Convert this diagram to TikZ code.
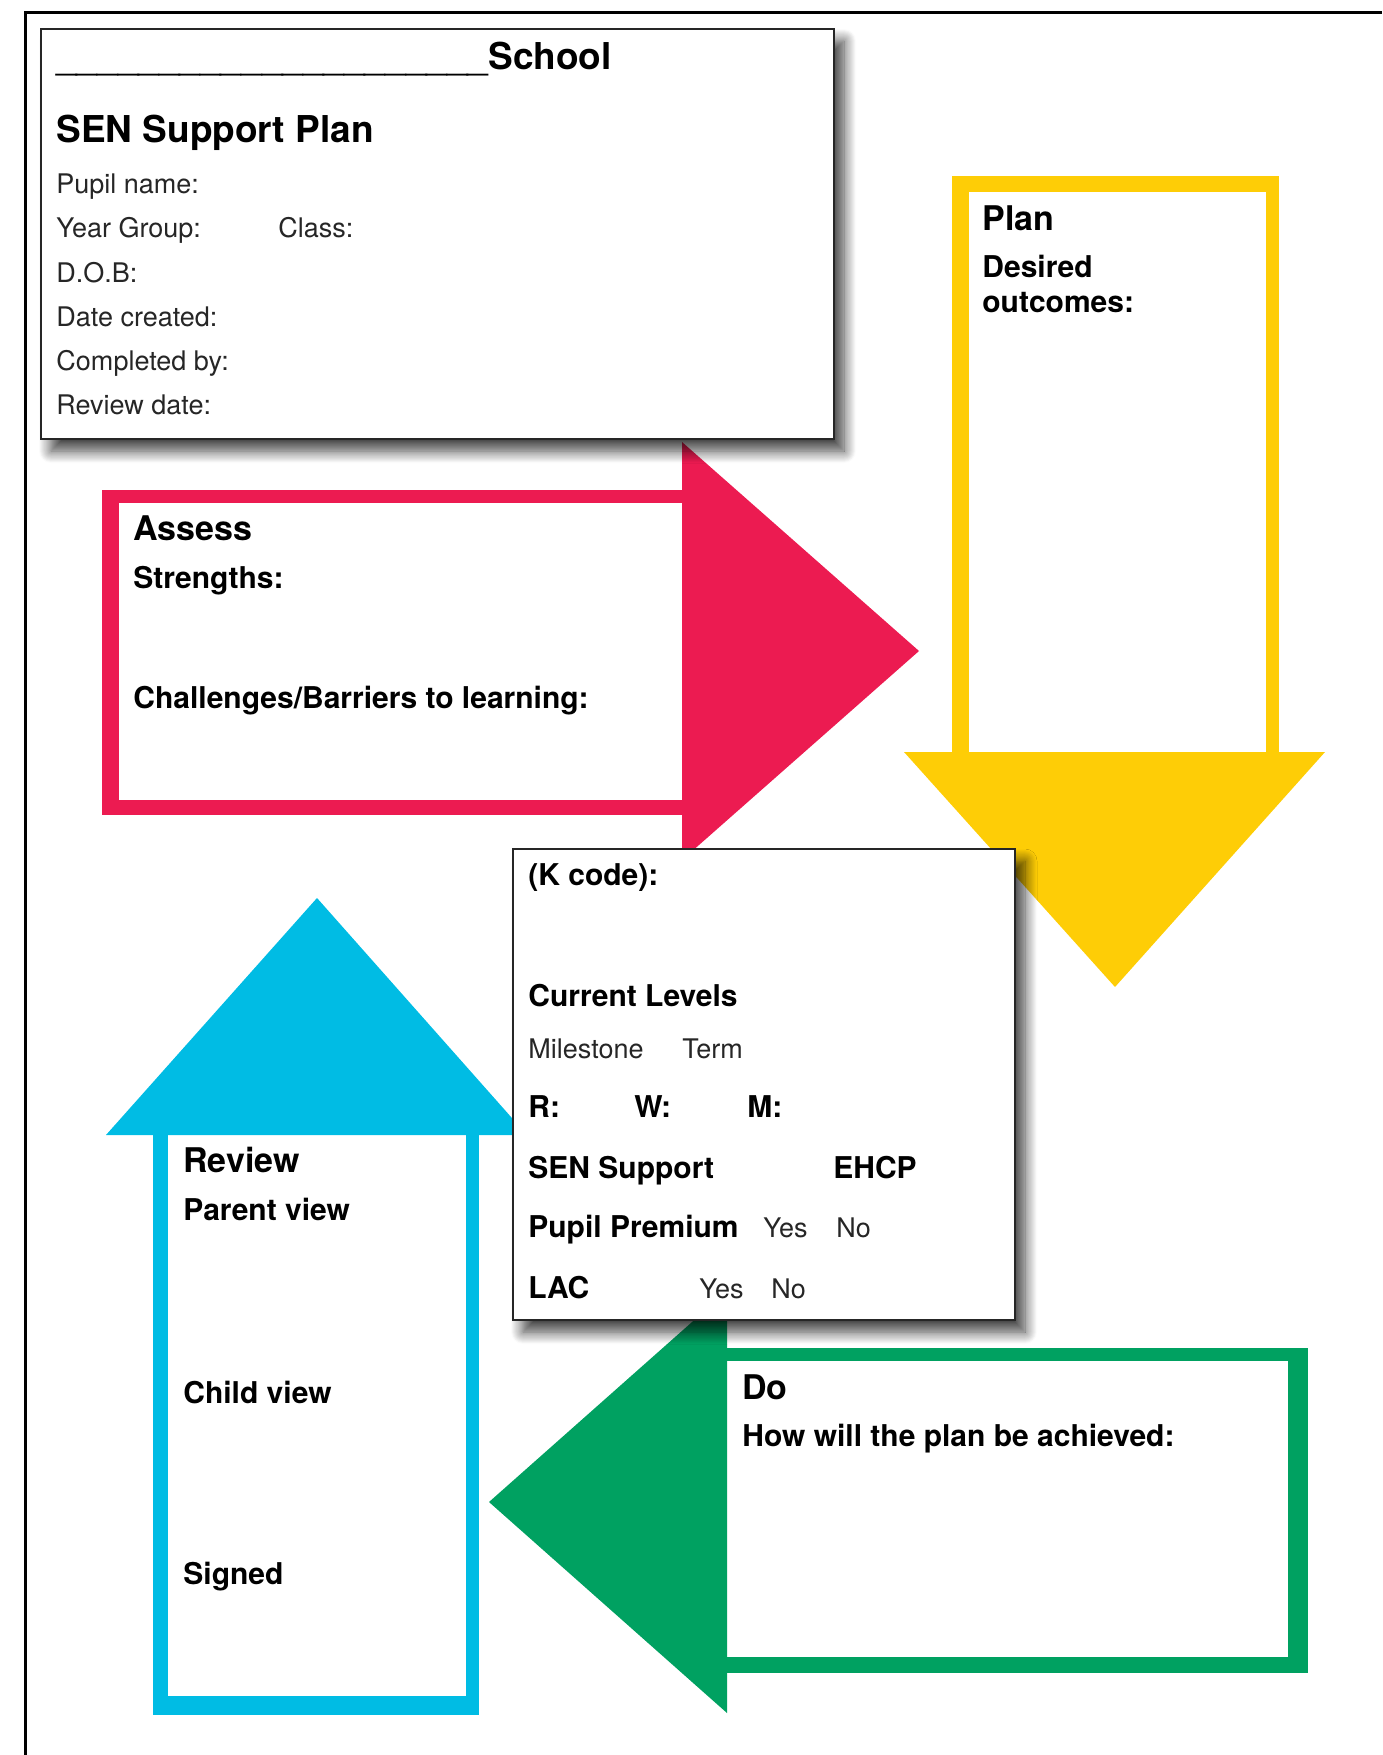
\documentclass[tikz,border=0pt]{standalone}
\usepackage{fontspec}
\setmainfont{TeX Gyre Heros}
\usetikzlibrary{shadows.blur}
\definecolor{assessred}{RGB}{236,27,81}
\definecolor{planyellow}{RGB}{254,205,6}
\definecolor{reviewblue}{RGB}{0,188,228}
\definecolor{dogreen}{RGB}{0,161,97}
\tikzset{
  lbl/.style={anchor=base west, inner sep=0pt},
  titletxt/.style={lbl, font=\fontsize{18.5}{22}\selectfont\bfseries},
  headtxt/.style={lbl, font=\fontsize{17}{20}\selectfont\bfseries},
  subtxt/.style={lbl, font=\fontsize{15}{18}\selectfont\bfseries},
  infotxt/.style={lbl, font=\fontsize{13.5}{16}\selectfont, text=black!85},
  formcard/.style={draw=black!85, line width=0.8pt, fill=white,
    blur shadow={shadow xshift=5pt, shadow yshift=-6pt, shadow blur radius=6pt,
      shadow blur steps=12, shadow opacity=75}},
}
\begin{document}
\begin{tikzpicture}[x=0.5pt, y=-0.5pt]
    \useasboundingbox (0,0) rectangle (1382,1755);
    \draw[line width=1.5pt] (1382,12.5)--(25,12.5)--(25,1755);
    % assess
    \fill[assessred] (102,490) rectangle (682,815);
    \fill[white] (119,503) rectangle (682,800);
    \fill[assessred] (682,442)--(919,651)--(682,860)--cycle;
    % plan
    \fill[planyellow] (952,176) rectangle (1279,753);
    \fill[white] (969,192) rectangle (1266,753);
    \fill[planyellow] (904,752)--(1325,752)--(1115,987)--cycle;
    % review
    \fill[reviewblue] (153,1135) rectangle (479,1715);
    \fill[white] (168,1135) rectangle (466,1696);
    \fill[reviewblue] (106,1135)--(527,1135)--(317,898)--cycle;
    % do
    \fill[dogreen] (727,1348) rectangle (1308,1673);
    \fill[white] (727,1361) rectangle (1288,1657);
    \fill[dogreen] (727,1291)--(727,1713)--(489,1502)--cycle;
    % cards
    \draw[formcard] (41,29) rectangle (834,439);
    \draw[formcard] (513,849) rectangle (1015,1320);

    \node[titletxt] (school) at (56,70) {\mdseries\_\_\_\_\_\_\_\_\_\_\_\_\_\_\_\_\_\_\_\_\_\bfseries School};
    \node[titletxt] (senplan) at (56,143) {SEN Support Plan};
    \node[infotxt] (pupil) at (56,194) {Pupil name:};
    \node[infotxt] (year) at (56,238) {Year Group:};
    \node[infotxt] (class) at (278,238) {Class:};
    \node[infotxt] (dob) at (56,282) {D.O.B:};
    \node[infotxt] (created) at (56,326) {Date created:};
    \node[infotxt] (completed) at (56,370) {Completed by:};
    \node[infotxt] (reviewdate) at (56,414) {Review date:};

    \node[headtxt] (assess) at (133,540) {Assess};
    \node[subtxt] (strengths) at (133,588) {Strengths:};
    \node[subtxt] (barriers) at (133,708) {Challenges/Barriers to learning:};

    \node[headtxt] (plan) at (982,231) {Plan};
    \node[subtxt] (desired) at (982,278) {Desired};
    \node[subtxt] (outcomes) at (982,312) {outcomes:};

    \node[subtxt] (kcode) at (528,885) {(K code):};
    \node[subtxt] (levels) at (528,1006) {Current Levels};
    \node[infotxt] (milestone) at (528,1058) {Milestone};
    \node[infotxt] (term) at (682,1058) {Term};
    \node[subtxt] (rlevel) at (528,1117) {R:};
    \node[subtxt] (wlevel) at (634,1117) {W:};
    \node[subtxt] (mlevel) at (747,1117) {M:};
    \node[subtxt] (sensupport) at (528,1178) {SEN Support};
    \node[subtxt] (ehcp) at (833,1178) {EHCP};
    \node[subtxt] (premium) at (528,1237) {Pupil Premium};
    \node[infotxt] (ppyes) at (763,1237) {Yes};
    \node[infotxt] (ppno) at (836,1237) {No};
    \node[subtxt] (lac) at (528,1298) {LAC};
    \node[infotxt] (lacyes) at (699,1298) {Yes};
    \node[infotxt] (lacno) at (771,1298) {No};

    \node[headtxt] (review) at (183,1172) {Review};
    \node[subtxt] (parent) at (183,1220) {Parent view};
    \node[subtxt] (child) at (183,1403) {Child view};
    \node[subtxt] (signed) at (183,1584) {Signed};

    \node[headtxt] (dohead) at (742,1399) {Do};
    \node[subtxt] (how) at (742,1446) {How will the plan be achieved:};
\end{tikzpicture}
\end{document}
